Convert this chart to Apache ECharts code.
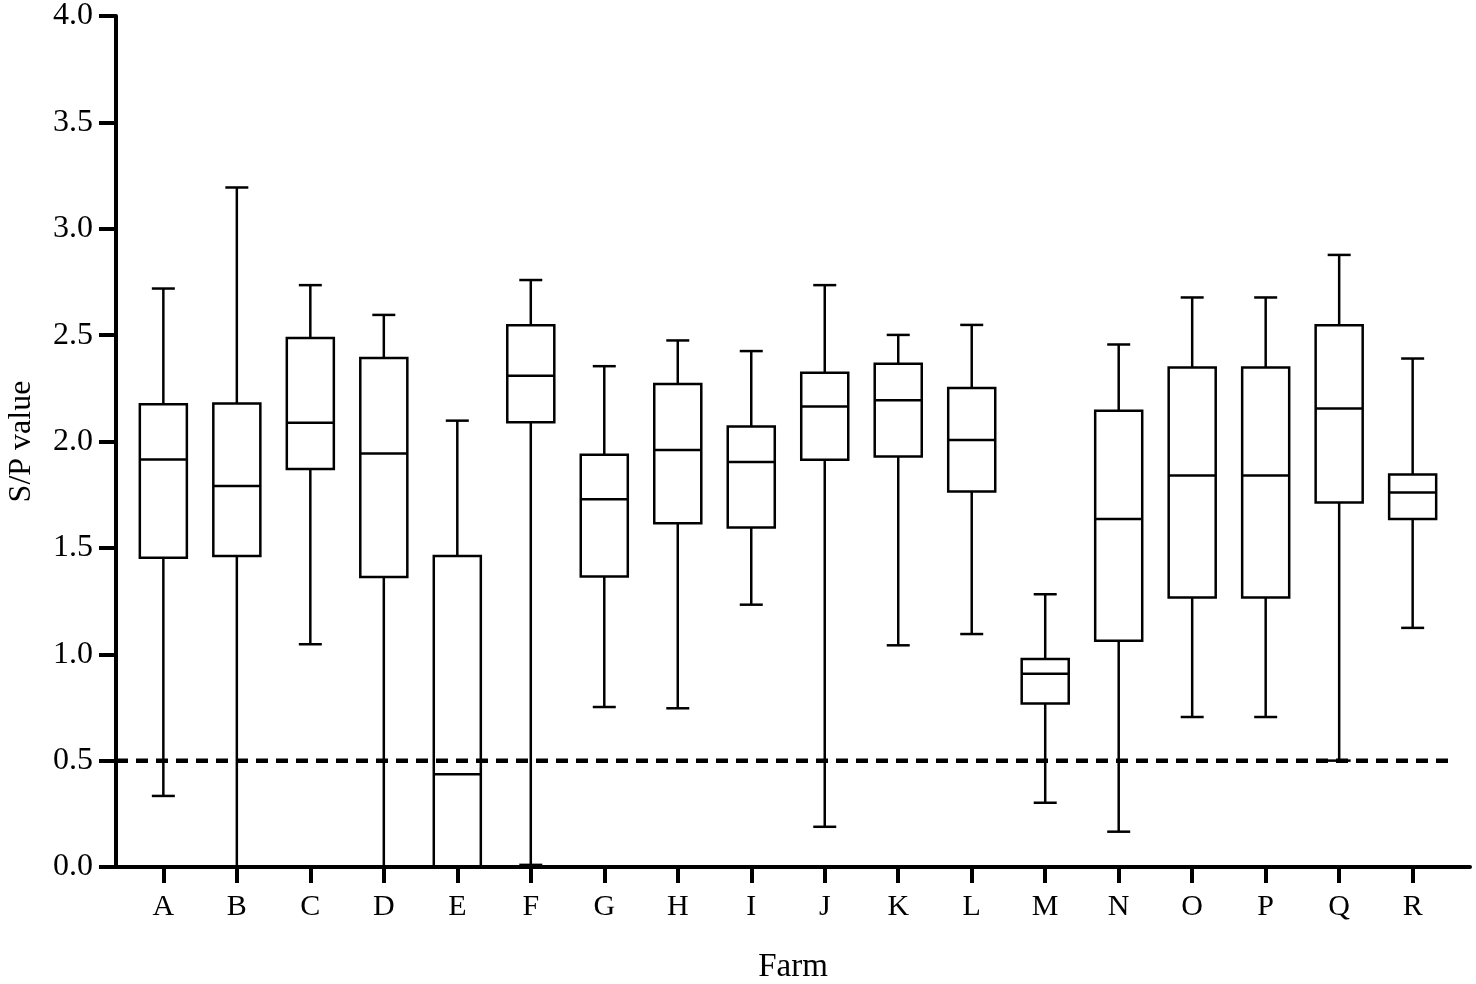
<!DOCTYPE html>
<html>
<head>
<meta charset="utf-8">
<script src="https://cdn.jsdelivr.net/npm/echarts@6/dist/echarts.min.js"></script>
<style>
html,body{margin:0;padding:0;background:#fff;}
#chart{width:1476px;height:984px;}
</style>
</head>
<body>
<div id="chart"></div>
<script>
const categories = ['A','B','C','D','E','F','G','H','I','J','K','L','M','N','O','P','Q','R'];
const minVals    = [0.334, 0.000, 1.047, 0.000, 0.000, 0.010, 0.752, 0.746, 1.233, 0.189, 1.042, 1.095, 0.302, 0.166, 0.705, 0.705, 0.500, 1.124];
const q1Vals     = [1.453, 1.462, 1.871, 1.363, 0.000, 2.090, 1.365, 1.616, 1.596, 1.914, 1.930, 1.765, 0.769, 1.063, 1.267, 1.267, 1.713, 1.636];
const medianVals = [1.915, 1.791, 2.088, 1.944, 0.436, 2.309, 1.728, 1.960, 1.904, 2.165, 2.194, 2.007, 0.908, 1.636, 1.840, 1.840, 2.155, 1.760];
const q3Vals     = [2.175, 2.179, 2.487, 2.393, 1.462, 2.546, 1.938, 2.270, 2.071, 2.323, 2.365, 2.252, 0.978, 2.144, 2.348, 2.348, 2.547, 1.845];
const maxVals    = [2.719, 3.194, 2.735, 2.595, 2.098, 2.759, 2.354, 2.475, 2.425, 2.735, 2.501, 2.548, 1.282, 2.456, 2.677, 2.677, 2.877, 2.390];
const yTicks = [0, 0.5, 1.0, 1.5, 2.0, 2.5, 3.0, 3.5, 4.0];
const cutoff = 0.5;

const FONT = 'Liberation Serif';
const boxData = categories.map((c, i) => [i, minVals[i], q1Vals[i], medianVals[i], q3Vals[i], maxVals[i]]);

const chart = echarts.init(document.getElementById('chart'), null, {renderer: 'canvas'});

function renderBox(params, api) {
  const i = api.value(0);
  const band = api.size([1, 0])[0];
  const bw = band * 0.64;
  const cw = band * 0.313;
  const x = api.coord([i, 0])[0];
  const vMin = api.value(1), vQ1 = api.value(2);
  const yMin = api.coord([i, vMin])[1];
  const yQ1 = api.coord([i, vQ1])[1];
  const yMed = api.coord([i, api.value(3)])[1];
  const yQ3 = api.coord([i, api.value(4)])[1];
  const yMax = api.coord([i, api.value(5)])[1];
  const st = {stroke: '#000', lineWidth: 2.5, fill: null};
  const children = [
    {type: 'line', shape: {x1: x, y1: yMax, x2: x, y2: yQ3}, style: st},
    {type: 'line', shape: {x1: x - cw / 2, y1: yMax, x2: x + cw / 2, y2: yMax}, style: st},
    {type: 'line', shape: {x1: x - bw / 2, y1: yMed, x2: x + bw / 2, y2: yMed}, style: st}
  ];
  if (vQ1 > vMin) {
    children.push({type: 'line', shape: {x1: x, y1: yQ1, x2: x, y2: yMin}, style: st});
  }
  if (vMin > 0) {
    children.push({type: 'line', shape: {x1: x - cw / 2, y1: yMin, x2: x + cw / 2, y2: yMin}, style: st});
  }
  if (vQ1 > 0) {
    children.push({type: 'rect', shape: {x: x - bw / 2, y: yQ3, width: bw, height: yQ1 - yQ3},
      style: {stroke: '#000', lineWidth: 2.5, fill: 'none'}});
  } else {
    children.push({type: 'polyline', shape: {points: [[x - bw / 2, yQ1], [x - bw / 2, yQ3], [x + bw / 2, yQ3], [x + bw / 2, yQ1]]},
      style: {stroke: '#000', lineWidth: 2.5, fill: 'none'}});
  }
  return {type: 'group', children};
}

const option = {
  backgroundColor: '#fff',
  animation: false,
  grid: [
    {left: 116, right: 6, top: 16, bottom: 117, containLabel: false, outerBoundsMode: 'none'},
    {left: 126.6, right: 26.6, top: 16, bottom: 117, containLabel: false, outerBoundsMode: 'none'}
  ],
  xAxis: [
    {
      gridIndex: 0, type: 'value', min: 0, max: 1, z: 20,
      axisLine: {show: true, lineStyle: {color: '#000', width: 4}},
      axisTick: {show: false}, axisLabel: {show: false}, splitLine: {show: false},
      name: 'Farm', nameLocation: 'middle', nameGap: 84,
      nameTextStyle: {fontFamily: FONT, fontSize: 33, color: '#000'}
    },
    {
      gridIndex: 1, type: 'category', data: categories, boundaryGap: true, z: 20,
      axisLine: {show: false},
      axisTick: {show: true, alignWithLabel: true, length: 16, lineStyle: {color: '#000', width: 4}},
      axisLabel: {fontFamily: FONT, fontSize: 30, color: '#000', margin: 25, interval: 0},
      splitLine: {show: false}
    }
  ],
  yAxis: [
    {
      gridIndex: 0, type: 'value', min: 0, max: 4, interval: 0.5, z: 20,
      axisLine: {show: true, lineStyle: {color: '#000', width: 4}},
      axisTick: {show: true, length: 17, lineStyle: {color: '#000', width: 4}},
      axisLabel: {fontFamily: FONT, fontSize: 32, color: '#000', margin: 23,
        formatter: v => yTicks.includes(v) ? v.toFixed(1) : ''},
      splitLine: {show: false},
      name: 'S/P value', nameLocation: 'middle', nameGap: 78,
      nameTextStyle: {fontFamily: FONT, fontSize: 32, color: '#000'}
    },
    {
      gridIndex: 1, type: 'value', min: 0, max: 4, show: false
    }
  ],
  series: [
    {
      type: 'custom', xAxisIndex: 1, yAxisIndex: 1,
      data: boxData, renderItem: renderBox,
      encode: {x: 0, y: [1, 2, 3, 4, 5]}, z: 2, clip: false
    },
    {
      type: 'line', xAxisIndex: 0, yAxisIndex: 0,
      data: [[0, cutoff], [0.989, cutoff]], symbol: 'none', z: 10,
      lineStyle: {color: '#000', width: 4.5, type: [12, 8]}
    }
  ]
};
chart.setOption(option);
</script>
</body>
</html>
